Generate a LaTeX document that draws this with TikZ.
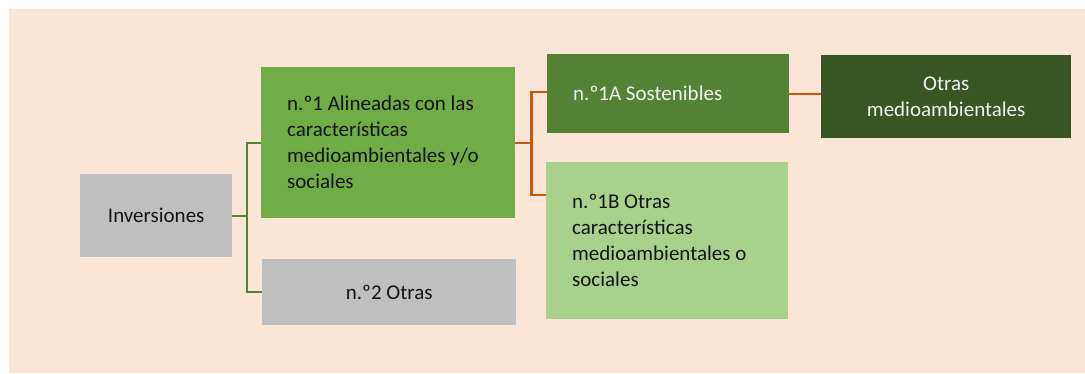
\documentclass[tikz,border=0pt]{standalone}
\usepackage{fontspec}
\setmainfont{Carlito}
\usetikzlibrary{calc}
\definecolor{peach}{HTML}{FBE5D6}
\definecolor{greyb}{HTML}{BFBFBF}
\definecolor{gmid}{HTML}{70AD47}
\definecolor{gdark}{HTML}{548235}
\definecolor{glight}{HTML}{A9D18E}
\definecolor{gdeep}{HTML}{375623}
\definecolor{orangel}{HTML}{C55A11}
\definecolor{txtdark}{HTML}{141414}
\definecolor{txtlight}{HTML}{F2F2F2}
\tikzset{
  box/.style={anchor=north west, inner ysep=0pt, font=\fontsize{21}{26}\selectfont},
  lbox/.style={box, align=flush left, inner xsep=26pt},
  cbox/.style={box, align=flush center, inner xsep=0pt},
  gline/.style={draw=gdark, line width=2pt},
  oline/.style={draw=orangel, line width=2.2pt},
}
\begin{document}
\begin{tikzpicture}[x=1pt,y=-1pt]
\useasboundingbox (0,0) rectangle (1085,373);
\fill[peach] (9,9) rectangle (1085,373);
% boxes
\node[cbox, fill=greyb, text=txtdark, minimum width=152pt, minimum height=83pt] (inv) at (80,174) {Inversiones};
\node[lbox, fill=gmid, text=txtdark, text width=202pt, minimum height=151pt] (b1) at (261,67)
  {n.º1 Alineadas con las\\características\\medioambientales y/o\\sociales};
\node[cbox, fill=greyb, text=txtdark, minimum width=254pt, minimum height=66pt] (b2) at (262,259) {n.º2 Otras};
\node[lbox, fill=gdark, text=txtlight, text width=190pt, minimum height=79pt] (b1a) at (547,54) {n.º1A Sostenibles};
\node[lbox, fill=glight, text=txtdark, text width=190pt, minimum height=157pt] (b1b) at (546,162)
  {n.º1B Otras\\características\\medioambientales o\\sociales};
\node[cbox, fill=gdeep, text=txtlight, minimum width=250pt, minimum height=83pt] (om) at (821,55)
  {Otras\\medioambientales};
% connectors
\draw[gline] (inv.east) -- ++(15,0) coordinate (g);
\draw[gline] (g) |- (b1.west);
\draw[gline] (g) |- (b2.west);
\draw[oline] (b1.east) -- ++(16,0) coordinate (o);
\draw[oline] (o) |- ($(b1a.west)+(0,-2)$);
\coordinate (b1bin) at ($(b1b.north west)+(0,33)$);
\draw[oline] (o) |- (b1bin);
\draw[oline] (b1a.east) -- (b1a.east -| om.west);
\end{tikzpicture}
\end{document}
